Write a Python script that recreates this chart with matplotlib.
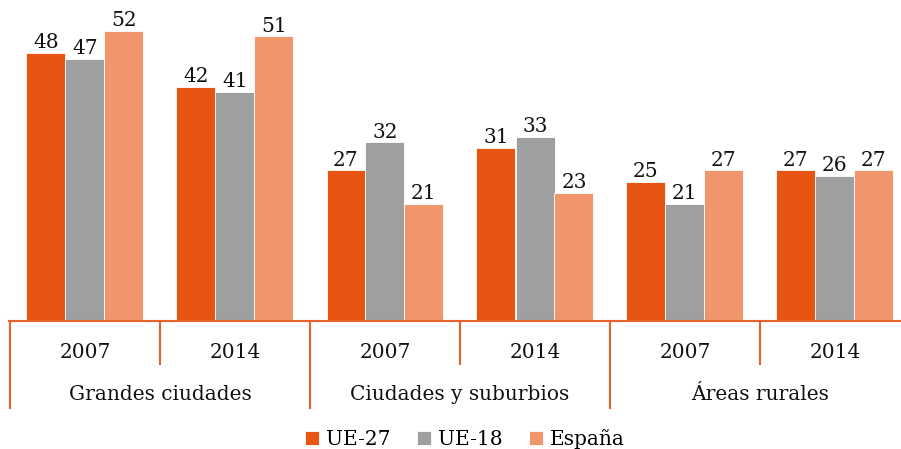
import matplotlib.pyplot as plt
import numpy as np

years = ["2007", "2014", "2007", "2014", "2007", "2014"]
areas = ["Grandes ciudades", "Ciudades y suburbios", "Áreas rurales"]
series = ["UE-27", "UE-18", "España"]
ue27 = [48, 42, 27, 31, 25, 27]
ue18 = [47, 41, 32, 33, 21, 26]
espana = [52, 51, 21, 23, 27, 27]

colors = ["#E85412", "#9E9FA1", "#F1956C"]
axis_col = "#E8602A"
txt = "#111111"
fs = 14.5

plt.rcParams['font.family'] = ['DejaVu Serif']

fig = plt.figure(figsize=(9.01, 4.49), dpi=100)
W, H = 901, 449
# axes in pixel terms: x 10..910, baseline at y=321
ax = fig.add_axes([10 / W, (H - 321) / H, 900 / W, 311 / H])
ymax = 311 / 5.58
ax.set_xlim(0, 6)
ax.set_ylim(0, ymax)

x = np.arange(6) + 0.5
bw = 0.26
for k, (vals, col, name) in enumerate(zip([ue27, ue18, espana], colors, series)):
    xs = x + (k - 1) * bw
    ax.bar(xs, vals, width=bw, color=col, edgecolor="white", linewidth=0.6, label=name)
    for xi, v in zip(xs, vals):
        ax.text(xi, v + 0.15, str(v), ha="center", va="bottom", fontsize=fs, color=txt)

for s in ["top", "right", "left", "bottom"]:
    ax.spines[s].set_visible(False)
ax.set_xticks([])
ax.set_yticks([])

# axis line and category dividers
px = ymax / 311  # data units per pixel in y
ax.plot([-0.01, 6], [0, 0], color=axis_col, lw=1.5, clip_on=False)
for i in range(7):
    depth = 87 if i % 2 == 0 else 43
    ax.plot([i, i], [0, -depth * px], color=axis_col, lw=1.5, clip_on=False)

for xi, yr in zip(x, years):
    ax.text(xi, -31 * px, yr, ha="center", va="center", fontsize=fs, color=txt)
for i, a in enumerate(areas):
    ax.text(2 * i + 1, -73 * px, a, ha="center", va="center", fontsize=fs, color=txt)

fig.legend(loc="center", bbox_to_anchor=(465 / W, 1 - 439 / H), ncol=3, frameon=False,
           fontsize=fs, handlelength=0.7, handleheight=0.7, handletextpad=0.35,
           columnspacing=1.3, borderaxespad=0)

fig.savefig("out.png", dpi=100)
